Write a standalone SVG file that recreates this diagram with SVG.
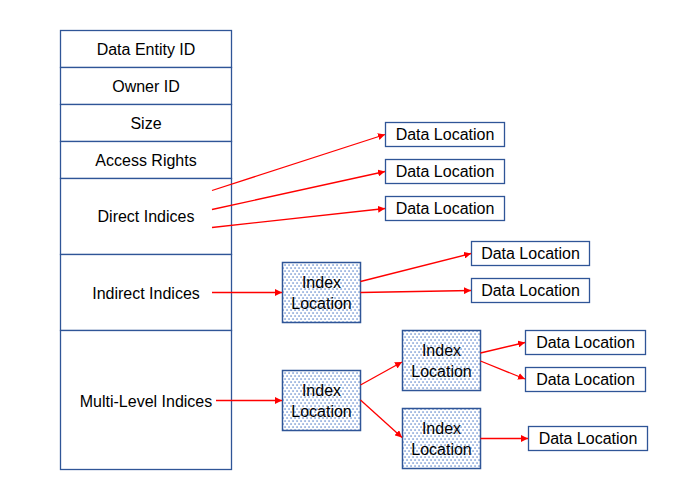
<svg xmlns="http://www.w3.org/2000/svg" width="697" height="489" viewBox="0 0 697 489">
<style>
text{font-family:"Liberation Sans",Arial,sans-serif;font-size:16px;fill:#000;text-anchor:middle}
.cell{fill:#fff;stroke:#2F5597;stroke-width:1.3}
.idx{fill:url(#dots);stroke:#2F5597;stroke-width:1.5}
.con{stroke:#FF0000;stroke-width:1.3;fill:none;marker-end:url(#ah)}
</style>
<defs>
<pattern id="dots" width="4" height="6" patternUnits="userSpaceOnUse">
<rect width="4" height="6" fill="#fff"/>
<rect x="0.4" y="0.4" width="1.3" height="1.3" fill="#4472C4"/>
<rect x="2.4" y="3.4" width="1.3" height="1.3" fill="#4472C4"/>
</pattern>
<marker id="ah" viewBox="0 0 10 10" refX="10" refY="5" markerWidth="7" markerHeight="7" markerUnits="userSpaceOnUse" orient="auto">
<path d="M0,0 L10,5 L0,10 z" fill="#FF0000"/>
</marker>
</defs>
<rect width="697" height="489" fill="#fff"/>
<g id="table">
<rect class="cell" x="60.5" y="30.5" width="171" height="37"/>
<rect class="cell" x="60.5" y="67.5" width="171" height="37"/>
<rect class="cell" x="60.5" y="104.5" width="171" height="37"/>
<rect class="cell" x="60.5" y="141.5" width="171" height="37"/>
<rect class="cell" x="60.5" y="178.5" width="171" height="76"/>
<rect class="cell" x="60.5" y="254.5" width="171" height="76"/>
<rect class="cell" x="60.5" y="330.5" width="171" height="139"/>
<text x="146" y="55">Data Entity ID</text>
<text x="146" y="92">Owner ID</text>
<text x="146" y="129">Size</text>
<text x="146" y="166">Access Rights</text>
<text x="146" y="222">Direct Indices</text>
<text x="146" y="299">Indirect Indices</text>
<text x="146" y="407">Multi-Level Indices</text>
</g>
<g id="d1"><rect class="cell" x="385.5" y="122.5" width="119" height="24"/><text x="445" y="140">Data Location</text></g>
<g id="d2"><rect class="cell" x="385.5" y="159.5" width="119" height="24"/><text x="445" y="177">Data Location</text></g>
<g id="d3"><rect class="cell" x="385.5" y="196.5" width="119" height="24"/><text x="445" y="214">Data Location</text></g>
<g id="i1"><rect class="idx" x="282.5" y="262.5" width="78" height="60"/><text x="321.5" y="288">Index</text><text x="321.5" y="309">Location</text></g>
<g id="d4"><rect class="cell" x="471.5" y="241.5" width="118" height="24"/><text x="530.5" y="259">Data Location</text></g>
<g id="d5"><rect class="cell" x="471.5" y="278.5" width="118" height="24"/><text x="530.5" y="296">Data Location</text></g>
<g id="i2"><rect class="idx" x="282.5" y="370.5" width="78" height="60"/><text x="321.5" y="396">Index</text><text x="321.5" y="417">Location</text></g>
<g id="i3"><rect class="idx" x="402.5" y="330.5" width="78" height="60"/><text x="441.5" y="356">Index</text><text x="441.5" y="377">Location</text></g>
<g id="i4"><rect class="idx" x="402.5" y="408.5" width="78" height="60"/><text x="441.5" y="434">Index</text><text x="441.5" y="455">Location</text></g>
<g id="d6"><rect class="cell" x="525.5" y="330.5" width="120" height="24"/><text x="585.5" y="348">Data Location</text></g>
<g id="d7"><rect class="cell" x="525.5" y="367.5" width="120" height="24"/><text x="585.5" y="385">Data Location</text></g>
<g id="d8"><rect class="cell" x="528.5" y="426.5" width="119" height="24"/><text x="588" y="444">Data Location</text></g>
<g id="connectors">
<line class="con" x1="212" y1="190.5" x2="385" y2="134.5"/>
<line class="con" x1="212" y1="209.5" x2="385" y2="171.5"/>
<line class="con" x1="212" y1="227.5" x2="385" y2="208.5"/>
<line class="con" x1="212" y1="292.5" x2="282" y2="292.5"/>
<line class="con" x1="360.5" y1="281.5" x2="471" y2="253.5"/>
<line class="con" x1="360.5" y1="292.5" x2="471" y2="290.5"/>
<line class="con" x1="216" y1="400.5" x2="282" y2="400.5"/>
<line class="con" x1="360.5" y1="385" x2="402" y2="362"/>
<line class="con" x1="360.5" y1="400" x2="402" y2="437.5"/>
<line class="con" x1="480.5" y1="353" x2="525" y2="342.5"/>
<line class="con" x1="480.5" y1="361" x2="525" y2="379"/>
<line class="con" x1="480.5" y1="438.5" x2="528" y2="438.5"/>
</g>
</svg>
